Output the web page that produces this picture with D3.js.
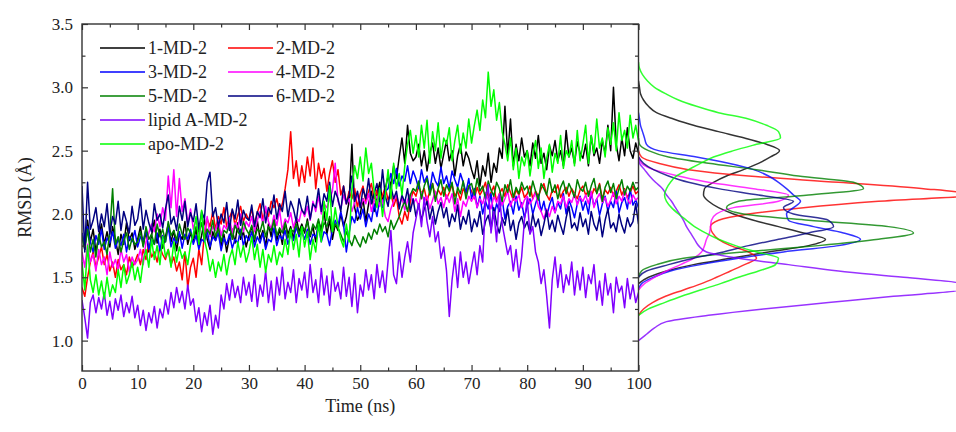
<!DOCTYPE html>
<html>
<head>
<meta charset="utf-8">
<script src="https://cdn.jsdelivr.net/npm/d3@7"></script>
<style>
body{margin:0;background:#fff;}
svg text{font-family:"Liberation Serif","Times New Roman",serif;fill:#222;}
</style>
</head>
<body>
<div id="chart"></div>
<script>
var seriesNames = ['1-MD-2','2-MD-2','3-MD-2','4-MD-2','5-MD-2','6-MD-2','lipid A-MD-2','apo-MD-2'];
var seriesColors = ['#000000','#ff0000','#0000ff','#ff00ff','#008000','#000080','#8000ff','#00ff00'];
var timeStep = 0.5; // ns between frames

var rmsd1 = [
1.85,1.72,1.95,1.78,1.88,1.70,1.82,1.92,1.76,1.86,1.74,1.90,1.80,1.68,1.84,1.76,1.93,1.79,1.85,1.72,
1.80,1.90,1.75,1.86,1.70,1.83,1.95,1.77,1.88,1.73,1.82,1.92,1.78,1.87,1.71,1.84,1.80,1.94,1.76,1.85,
1.78,1.88,1.74,1.83,1.96,1.80,1.72,1.86,1.79,1.91,1.75,1.84,1.70,1.82,1.88,1.77,1.93,1.80,1.86,1.74,
1.83,1.90,1.78,1.95,1.80,1.87,1.74,1.92,1.82,1.98,1.79,1.88,1.76,1.94,1.84,1.90,1.80,1.97,1.86,1.92,
1.85,1.96,1.82,1.90,1.78,1.94,1.88,2.02,1.84,1.95,1.80,1.92,1.87,2.00,1.90,1.98,2.10,2.55,2.05,1.95,
2.00,2.12,1.94,2.08,2.18,2.02,2.15,2.25,2.10,2.20,2.30,2.22,2.38,2.28,2.45,2.60,2.40,2.70,2.48,2.42,
2.45,2.55,2.38,2.50,2.34,2.48,2.56,2.40,2.52,2.36,2.47,2.58,2.42,2.50,2.30,2.46,2.55,2.38,2.49,2.44,
2.35,2.28,2.42,2.22,2.38,2.30,2.48,2.25,2.40,2.33,2.52,2.44,2.85,2.46,2.75,2.38,2.55,2.42,2.60,2.45,
2.50,2.38,2.56,2.44,2.62,2.40,2.48,2.35,2.54,2.46,2.58,2.42,2.50,2.38,2.66,2.45,2.52,2.40,2.57,2.48,
2.44,2.55,2.38,2.62,2.46,2.52,2.40,2.58,2.48,2.70,2.50,3.00,2.55,2.42,2.60,2.46,2.68,2.50,2.44,2.56,
2.48];
var rmsd2 = [
1.42,1.35,1.50,1.62,1.70,1.58,1.66,1.74,1.60,1.68,1.55,1.62,1.50,1.64,1.56,1.60,1.52,1.66,1.58,1.62,
1.68,1.60,1.72,1.64,1.76,1.66,1.70,1.62,1.74,1.68,1.64,1.72,1.60,1.66,1.55,1.62,1.48,1.70,1.42,1.58,
1.65,1.50,1.72,1.60,1.85,1.96,1.90,2.02,1.88,1.98,1.92,2.05,1.90,1.97,2.03,1.91,1.99,2.06,1.94,2.00,
1.95,2.04,1.92,2.01,2.08,1.96,2.03,1.98,2.10,2.05,2.12,2.02,2.08,2.20,2.35,2.65,2.28,2.42,2.22,2.38,
2.25,2.45,2.30,2.52,2.20,2.40,2.28,2.36,2.18,2.32,2.42,2.25,2.35,2.15,2.22,2.08,2.18,2.12,2.20,2.05,
2.16,2.22,2.10,2.18,2.24,2.12,2.19,2.08,2.15,2.21,2.11,2.17,2.06,2.13,1.98,1.92,2.02,1.95,2.10,2.18,
2.14,2.22,2.16,2.20,2.10,2.18,2.24,2.13,2.19,2.15,2.21,2.12,2.17,2.23,2.14,2.18,2.11,2.20,2.16,2.22,
2.18,2.12,2.21,2.15,2.19,2.25,2.13,2.17,2.22,2.10,2.16,2.20,2.14,2.23,2.17,2.11,2.19,2.15,2.21,2.13,
2.16,2.22,2.12,2.18,2.14,2.20,2.24,2.15,2.11,2.19,2.17,2.23,2.13,2.18,2.21,2.14,2.20,2.16,2.12,2.19,
2.22,2.15,2.18,2.13,2.20,2.17,2.24,2.12,2.19,2.16,2.21,2.14,2.18,2.23,2.15,2.20,2.13,2.17,2.22,2.16,
2.18];
var rmsd3 = [
1.85,1.74,1.90,1.78,1.70,1.83,1.76,1.88,1.72,1.81,1.77,1.86,1.73,1.80,1.75,1.84,1.70,1.82,1.78,1.87,
1.74,1.82,1.79,1.88,1.72,1.80,1.76,1.85,1.71,1.83,1.78,1.90,1.74,1.81,1.77,1.86,1.73,1.84,1.80,1.88,
1.76,1.83,1.72,1.80,1.78,1.87,1.74,1.82,1.79,1.85,1.71,1.81,1.76,1.84,1.73,1.80,1.77,1.88,1.75,1.83,
1.79,1.86,1.74,1.82,1.77,1.85,1.72,1.80,1.78,1.89,1.75,1.83,1.80,1.87,1.76,1.84,1.79,1.90,1.82,1.86,
1.80,1.88,1.76,1.84,1.82,1.90,1.78,1.86,1.84,1.75,1.88,1.95,1.90,2.02,1.92,1.70,1.85,1.98,1.93,2.05,
1.96,2.04,1.90,2.00,1.94,2.08,1.98,2.12,2.05,2.18,2.20,2.32,2.24,2.36,2.22,2.30,2.26,2.38,2.24,2.34,
2.28,2.20,2.35,2.25,2.30,2.18,2.33,2.26,2.22,2.37,2.24,2.30,2.20,2.34,2.27,2.21,2.32,2.25,2.17,2.28,
2.12,2.20,2.05,2.14,2.00,2.10,2.04,2.16,1.98,2.08,2.02,2.12,1.96,2.06,2.10,2.00,2.14,2.03,2.09,1.97,
2.06,2.12,2.00,2.08,2.15,2.02,2.10,1.98,2.07,2.13,2.01,2.09,2.04,2.16,2.00,2.11,2.05,1.97,2.08,2.14,
2.03,2.10,2.00,2.17,2.06,2.12,1.99,2.08,2.14,2.02,2.10,2.05,2.18,2.01,2.09,2.13,2.04,2.20,2.07,2.11,
2.05];
var rmsd4 = [
1.70,1.58,1.76,1.62,1.68,1.55,1.72,1.60,1.66,1.52,1.70,1.58,1.64,1.56,1.72,1.62,1.68,1.54,1.66,1.60,
1.64,1.72,1.60,1.78,1.85,1.92,1.86,2.00,1.90,2.05,1.95,2.30,2.05,2.35,1.98,2.28,2.02,2.12,1.92,2.04,
1.88,1.96,1.84,1.92,1.86,1.98,1.82,1.90,1.87,1.95,1.83,1.91,1.88,1.97,1.85,1.93,1.89,2.00,1.86,1.94,
1.90,1.98,1.86,1.95,2.02,1.92,2.06,1.94,1.88,1.99,1.91,2.03,1.87,1.96,1.93,2.01,1.89,1.97,1.94,2.04,
1.98,2.06,1.95,2.10,2.02,2.14,2.00,2.08,2.05,2.12,2.18,2.40,2.10,2.04,2.15,2.08,2.12,2.02,2.09,2.16,
2.05,2.12,2.08,2.16,2.02,2.10,2.14,2.06,2.11,1.98,1.94,2.04,2.10,2.15,2.07,2.13,2.03,2.11,2.16,2.08,
2.12,2.06,2.17,2.10,2.14,2.04,2.11,2.18,2.08,2.13,2.05,2.15,2.09,2.16,2.02,2.12,1.98,2.10,2.06,2.14,
2.10,2.15,2.05,2.12,2.08,2.17,2.11,2.04,2.14,2.09,2.16,2.07,2.12,2.18,2.06,2.13,2.10,2.15,2.05,2.11,
2.14,2.08,2.12,2.17,2.06,2.02,1.96,2.04,1.98,2.06,2.01,2.10,2.08,2.14,2.05,2.12,2.09,2.16,2.07,2.13,
2.10,2.15,2.08,2.18,2.05,2.12,2.16,2.09,2.13,2.06,2.11,2.17,2.08,2.14,2.10,2.19,2.12,2.08,2.15,2.11,
2.13];
var rmsd5 = [
1.82,1.72,1.88,1.70,1.80,1.66,1.84,1.74,1.78,1.68,1.86,2.20,1.76,1.82,1.70,1.79,1.85,1.72,1.81,1.76,
1.78,1.86,1.74,1.90,1.80,1.84,1.76,1.92,1.82,1.88,1.78,1.94,1.83,1.87,1.79,1.92,1.84,1.80,1.89,1.85,
1.81,1.90,1.86,1.93,1.80,1.88,1.84,1.95,1.82,1.89,1.78,1.87,1.85,1.92,1.80,1.91,1.86,1.83,1.94,1.88,
1.84,1.91,1.80,1.88,1.86,1.94,1.82,1.90,1.87,1.95,1.83,1.89,1.85,1.93,1.81,1.88,1.86,1.92,1.84,1.90,
1.87,1.94,1.83,1.92,1.88,1.96,1.85,1.93,1.90,1.98,1.86,1.92,1.89,1.84,1.78,1.86,1.80,1.75,1.83,1.78,
1.74,1.82,1.77,1.85,1.80,1.88,1.84,1.92,1.86,1.90,1.82,1.95,1.88,1.93,1.98,2.05,2.10,2.02,2.15,2.20,
2.18,2.26,2.12,2.22,2.28,2.15,2.24,2.10,2.20,2.27,2.14,2.23,2.18,2.25,2.08,2.21,2.16,2.26,2.12,2.22,
2.24,2.15,2.28,2.18,2.22,2.12,2.26,2.19,2.14,2.25,2.20,2.10,2.23,2.17,2.27,2.13,2.21,2.16,2.25,2.19,
2.22,2.14,2.26,2.18,2.11,2.24,2.20,2.15,2.28,2.17,2.23,2.12,2.21,2.26,2.16,2.24,2.19,2.13,2.27,2.20,
2.18,2.25,2.14,2.22,2.28,2.16,2.23,2.10,2.21,2.26,2.17,2.24,2.12,2.20,2.27,2.15,2.22,2.18,2.25,2.19,
2.21];
var rmsd6 = [
2.22,1.70,2.25,1.88,1.95,2.05,1.86,2.00,1.90,2.08,1.84,1.98,1.92,2.10,1.87,2.02,1.94,1.85,2.06,1.91,
1.96,2.12,1.88,2.03,1.93,1.86,2.08,1.95,2.00,1.89,2.04,2.15,1.92,1.98,1.87,2.06,1.95,2.10,1.90,2.01,
1.94,2.08,1.88,2.02,1.96,2.25,2.33,1.98,2.05,1.90,2.00,1.93,2.09,1.87,2.04,1.96,2.11,1.91,2.03,1.97,
1.95,2.07,1.90,2.02,1.97,2.12,1.93,2.05,2.00,2.15,1.96,2.08,2.02,2.18,1.98,2.10,2.04,1.94,2.12,2.03,
2.00,2.14,1.96,2.08,2.05,2.20,2.02,2.16,2.10,2.25,2.06,2.18,2.12,2.02,2.22,2.08,2.15,2.30,2.10,2.18,
2.05,2.20,2.12,2.28,2.08,2.16,2.24,2.10,2.35,2.14,2.06,2.22,2.12,2.18,2.04,2.15,2.09,2.20,2.02,2.12,
1.98,2.08,1.95,2.04,2.10,1.96,2.06,1.92,2.02,2.09,1.97,2.05,1.90,2.00,1.94,2.07,1.88,1.98,1.92,2.03,
1.86,1.96,1.90,2.02,1.84,1.94,1.99,1.88,2.05,1.92,1.85,1.97,1.91,2.04,1.87,1.95,1.80,1.93,1.98,1.89,
1.94,1.85,2.00,1.90,1.96,1.83,1.92,2.03,1.88,1.95,1.86,1.99,1.91,1.84,1.97,2.06,1.89,1.93,1.87,2.01,
1.90,1.96,1.84,2.02,1.92,1.87,1.98,1.82,1.95,2.04,1.89,1.93,1.86,2.00,1.91,1.85,1.97,1.90,1.94,2.08,
1.92];
var rmsdLipidA = [
1.32,1.18,1.02,1.30,1.36,1.22,1.34,1.25,1.38,1.20,1.31,1.17,1.33,1.24,1.36,1.19,1.30,1.22,1.35,1.18,
1.28,1.12,1.24,1.08,1.22,1.14,1.27,1.10,1.25,1.18,1.32,1.21,1.38,1.26,1.42,1.30,1.39,1.25,1.44,1.28,
1.33,1.15,1.26,1.07,1.22,1.12,1.28,1.05,1.20,1.10,1.36,1.25,1.45,1.32,1.48,1.34,1.43,1.30,1.50,1.36,
1.46,1.31,1.52,1.27,1.44,1.35,1.55,1.30,1.47,1.24,1.50,1.36,1.58,1.33,1.46,1.38,1.56,1.30,1.49,1.40,
1.54,1.34,1.60,1.38,1.48,1.30,1.57,1.36,1.51,1.28,1.55,1.39,1.46,1.33,1.58,1.35,1.50,1.27,1.53,1.22,
1.44,1.35,1.56,1.40,1.52,1.33,1.60,1.42,1.55,1.38,1.63,1.87,1.52,1.45,1.70,1.50,1.66,1.78,1.62,1.85,
1.96,2.08,1.90,2.13,1.94,1.82,1.98,1.78,1.86,1.65,1.74,1.55,1.19,1.48,1.66,1.42,1.70,1.50,1.62,1.45,
1.58,1.70,1.52,1.75,1.62,2.10,2.23,1.85,2.02,1.78,2.15,1.92,1.80,1.68,1.75,1.55,1.72,1.50,1.66,1.95,
2.12,1.84,1.90,1.70,1.62,1.45,1.56,1.35,1.10,1.48,1.66,1.42,1.60,1.38,1.52,1.44,1.62,1.36,1.55,1.40,
1.58,1.34,1.52,1.45,1.60,1.32,1.47,1.28,1.53,1.36,1.45,1.22,1.50,1.38,1.43,1.26,1.49,1.33,1.44,1.30,
1.38];
var rmsdApo = [
1.62,1.40,1.75,1.48,1.38,1.52,1.36,1.47,1.33,1.50,1.35,1.44,1.38,1.56,1.42,1.60,1.45,1.52,1.62,1.48,
1.58,1.46,1.63,1.72,1.58,1.80,1.64,1.75,1.60,1.82,1.66,1.72,1.58,1.78,1.62,1.74,1.65,1.70,1.60,1.76,
1.84,1.98,1.76,2.03,1.80,1.70,1.55,1.64,1.50,1.62,1.55,1.68,1.52,1.65,1.72,1.60,1.78,1.66,1.75,1.62,
1.70,1.82,1.64,1.76,1.58,1.72,1.54,1.68,1.62,1.75,1.60,1.70,1.66,1.80,1.68,1.88,1.72,1.84,1.66,1.90,
1.74,1.86,1.64,1.80,1.70,1.92,1.78,2.10,1.95,2.22,1.86,2.05,1.90,1.80,1.74,1.92,1.78,2.20,2.38,2.28,
2.45,2.26,2.52,2.32,2.40,2.18,2.05,2.20,1.98,2.15,2.35,2.12,2.40,2.20,2.32,2.15,2.38,2.55,2.66,2.48,
2.62,2.45,2.70,2.52,2.74,2.40,2.65,2.50,2.72,2.44,2.60,2.55,2.68,2.42,2.58,2.70,2.48,2.64,2.52,2.75,
2.56,2.70,2.82,2.66,2.90,2.76,3.12,2.85,2.98,2.74,2.88,2.65,2.55,2.42,2.60,2.35,2.52,2.28,2.45,2.38,
2.50,2.30,2.46,2.58,2.36,2.52,2.28,2.44,2.55,2.33,2.48,2.40,2.62,2.36,2.50,2.45,2.58,2.38,2.66,2.42,
2.55,2.70,2.40,2.62,2.48,2.75,2.52,2.60,2.45,2.68,2.55,2.72,2.50,2.80,2.58,2.66,2.52,2.78,2.60,2.70,
2.58];

// distribution panel: RMSD grid and density (arbitrary units) per system
var densityRmsd = [1.00,1.05,1.10,1.15,1.20,1.25,1.30,1.35,1.40,1.45,1.50,1.55,1.60,1.65,1.70,1.75,1.80,1.85,1.90,1.95,
  2.00,2.05,2.10,2.15,2.20,2.25,2.30,2.35,2.40,2.45,2.50,2.55,2.60,2.65,2.70,2.75,2.80,2.85,2.90,2.95,3.00,3.05,3.10,3.15,3.20];
var dens1 = [null,null,null,null,null,null,null,null,null,0,10,28,55,92,130,170,187,165,140,115,95,80,70,65,66,75,88,105,120,132,141,128,106,80,55,35,18,10,5,2,1,0,null,null,null];
var dens2 = [null,null,null,null,0,5,14,27,45,63,78,92,106,118,110,92,80,74,72,80,110,165,240,335,285,200,110,50,20,3,0,null,null,null,null,null,null,null,null,null,null,null,null,null,null];
var dens3 = [null,null,null,null,null,null,null,null,0,3,15,32,62,100,145,200,222,205,175,150,148,155,162,155,148,140,130,115,90,58,20,8,6,4,2,1,0,null,null,null,null,null,null,null,null];
var dens4 = [null,null,null,null,null,null,null,null,0,6,16,28,42,55,63,66,68,71,72,73,78,95,140,150,115,70,40,15,3,0,null,null,null,null,null,null,null,null,null,null,null,null,null,null,null];
var dens5 = [null,null,null,null,null,null,null,null,null,null,0,3,18,45,105,180,240,275,250,170,105,88,100,170,225,215,160,118,70,30,10,1,0,null,null,null,null,null,null,null,null,null,null,null,null];
var dens6 = [null,null,null,null,null,null,null,null,null,null,0,8,30,55,85,110,140,170,195,190,155,145,155,120,80,50,30,15,5,0,null,null,null,null,null,null,null,null,null,null,null,null,null,null,null];
var densLipidA = [0,8,16,28,70,125,190,255,322,322,265,200,150,100,68,60,56,52,48,45,41,37,33,28,24,17,11,6,1,0,null,null,null,null,null,null,null,null,null,null,null,null,null,null,null];
var densApo = [null,null,null,null,0,10,26,43,62,82,100,120,137,140,118,97,80,67,56,48,40,33,28,26,28,32,38,50,62,75,95,118,142,140,128,110,80,58,40,27,16,9,4,1,0];

var xTicks = [0,10,20,30,40,50,60,70,80,90,100];
var xMinor = [5,15,25,35,45,55,65,75,85,95];
var yTicks = [1.0,1.5,2.0,2.5,3.0,3.5];
var yMinor = [1.25,1.75,2.25,2.75,3.25];

var allRmsd = [rmsd1,rmsd2,rmsd3,rmsd4,rmsd5,rmsd6,rmsdLipidA,rmsdApo];
var allDens = [dens1,dens2,dens3,dens4,dens5,dens6,densLipidA,densApo];

function draw(){
  var width = 956, height = 432;
  var m = {l: 82, r: 638.5, t: 24, b: 371};

  var svg = d3.select('#chart').append('svg')
      .attr('width', width)
      .attr('height', height);

  var x = d3.scaleLinear().domain([0, 100]).range([m.l, m.r]);
  var y = d3.scaleLinear().domain([0.76, 3.5]).range([m.b, m.t]);
  var xd = d3.scaleLinear().domain([0, 318]).range([m.r, m.r + 318]);

  var defs = svg.append('defs');
  defs.append('clipPath').attr('id', 'plotclip')
    .append('rect').attr('x', m.l).attr('y', m.t).attr('width', m.r - m.l).attr('height', m.b - m.t);
  defs.append('clipPath').attr('id', 'distclip')
    .append('rect').attr('x', m.r).attr('y', 0).attr('width', width - m.r).attr('height', height);

  // time series
  var line = d3.line()
      .x(function(d, i){ return x(i * timeStep); })
      .y(function(d){ return y(d); });

  svg.append('g').attr('clip-path', 'url(#plotclip)')
    .selectAll('path')
    .data(allRmsd)
    .enter()
    .append('path')
    .attr('d', line)
    .attr('fill', 'none')
    .attr('stroke', function(d, i){ return seriesColors[i]; })
    .attr('stroke-width', 1.5)
    .attr('stroke-linejoin', 'round');

  // distributions on the right
  var dline = d3.line()
      .defined(function(d){ return d.d != null; })
      .x(function(d){ return xd(d.d); })
      .y(function(d){ return y(d.v); })
      .curve(d3.curveMonotoneY);

  svg.append('g').attr('clip-path', 'url(#distclip)')
    .selectAll('path')
    .data(allDens)
    .enter()
    .append('path')
    .attr('d', function(dens){
      var pts = densityRmsd.map(function(v, i){ return {v: v, d: dens[i]}; })
        .filter(function(p){ return p.d != null; })
        .reverse();
      return dline(pts);
    })
    .attr('fill', 'none')
    .attr('stroke', function(d, i){ return seriesColors[i]; })
    .attr('stroke-width', 1.5)
    .attr('stroke-opacity', 0.8);

  // axes, ticks pointing inward
  var axisColor = '#333';
  function styleAxis(g){
    g.select('.domain').remove();
    g.selectAll('line').attr('stroke', axisColor).attr('stroke-width', 1.2);
    g.selectAll('text').attr('font-size', 17).attr('fill', '#222')
      .style('font-family', '"Liberation Serif", serif');
  }

  svg.append('g').attr('transform', 'translate(0,' + m.b + ')')
    .call(d3.axisBottom(x).tickValues(xTicks).tickSize(-6).tickPadding(6).tickFormat(d3.format('d')))
    .call(styleAxis);
  svg.append('g').attr('transform', 'translate(0,' + m.b + ')')
    .call(d3.axisBottom(x).tickValues(xMinor).tickSize(-3.5).tickFormat(''))
    .call(styleAxis);
  svg.append('g').attr('transform', 'translate(0,' + m.t + ')')
    .call(d3.axisTop(x).tickValues(xTicks).tickSize(-6).tickFormat(''))
    .call(styleAxis);
  svg.append('g').attr('transform', 'translate(0,' + m.t + ')')
    .call(d3.axisTop(x).tickValues(xMinor).tickSize(-3.5).tickFormat(''))
    .call(styleAxis);

  svg.append('g').attr('transform', 'translate(' + m.l + ',0)')
    .call(d3.axisLeft(y).tickValues(yTicks).tickSize(-6).tickPadding(9).tickFormat(d3.format('.1f')))
    .call(styleAxis);
  svg.append('g').attr('transform', 'translate(' + m.l + ',0)')
    .call(d3.axisLeft(y).tickValues(yMinor).tickSize(-3.5).tickFormat(''))
    .call(styleAxis);
  svg.append('g').attr('transform', 'translate(' + m.r + ',0)')
    .call(d3.axisRight(y).tickValues(yTicks).tickSize(-6).tickFormat(''))
    .call(styleAxis);
  svg.append('g').attr('transform', 'translate(' + m.r + ',0)')
    .call(d3.axisRight(y).tickValues(yMinor).tickSize(-3.5).tickFormat(''))
    .call(styleAxis);

  // frame
  svg.append('rect')
    .attr('x', m.l).attr('y', m.t)
    .attr('width', m.r - m.l).attr('height', m.b - m.t)
    .attr('fill', 'none').attr('stroke', axisColor).attr('stroke-width', 1.4);

  // axis titles
  svg.append('text')
    .attr('x', (m.l + m.r) / 2).attr('y', 412)
    .attr('text-anchor', 'middle').attr('font-size', 18)
    .text('Time (ns)');
  svg.append('text')
    .attr('transform', 'translate(31,' + ((m.t + m.b) / 2) + ') rotate(-90)')
    .attr('text-anchor', 'middle').attr('font-size', 18)
    .text('RMSD (Å)');

  // legend, two columns
  var legendPos = [[0,0],[1,0],[0,1],[1,1],[0,2],[1,2],[0,3],[0,4]];
  var lg = svg.append('g')
    .selectAll('g')
    .data(seriesNames)
    .enter()
    .append('g')
    .attr('transform', function(d, i){
      var p = legendPos[i];
      return 'translate(' + (100 + p[0] * 128) + ',' + (48 + p[1] * 24) + ')';
    });
  lg.append('line')
    .attr('x1', 0).attr('x2', 45).attr('y1', 0).attr('y2', 0)
    .attr('stroke', function(d, i){ return seriesColors[i]; })
    .attr('stroke-width', 1.5);
  lg.append('text')
    .attr('x', 48).attr('y', 6)
    .attr('font-size', 18)
    .text(function(d){ return d; });
}

draw();
</script>
</body>
</html>
